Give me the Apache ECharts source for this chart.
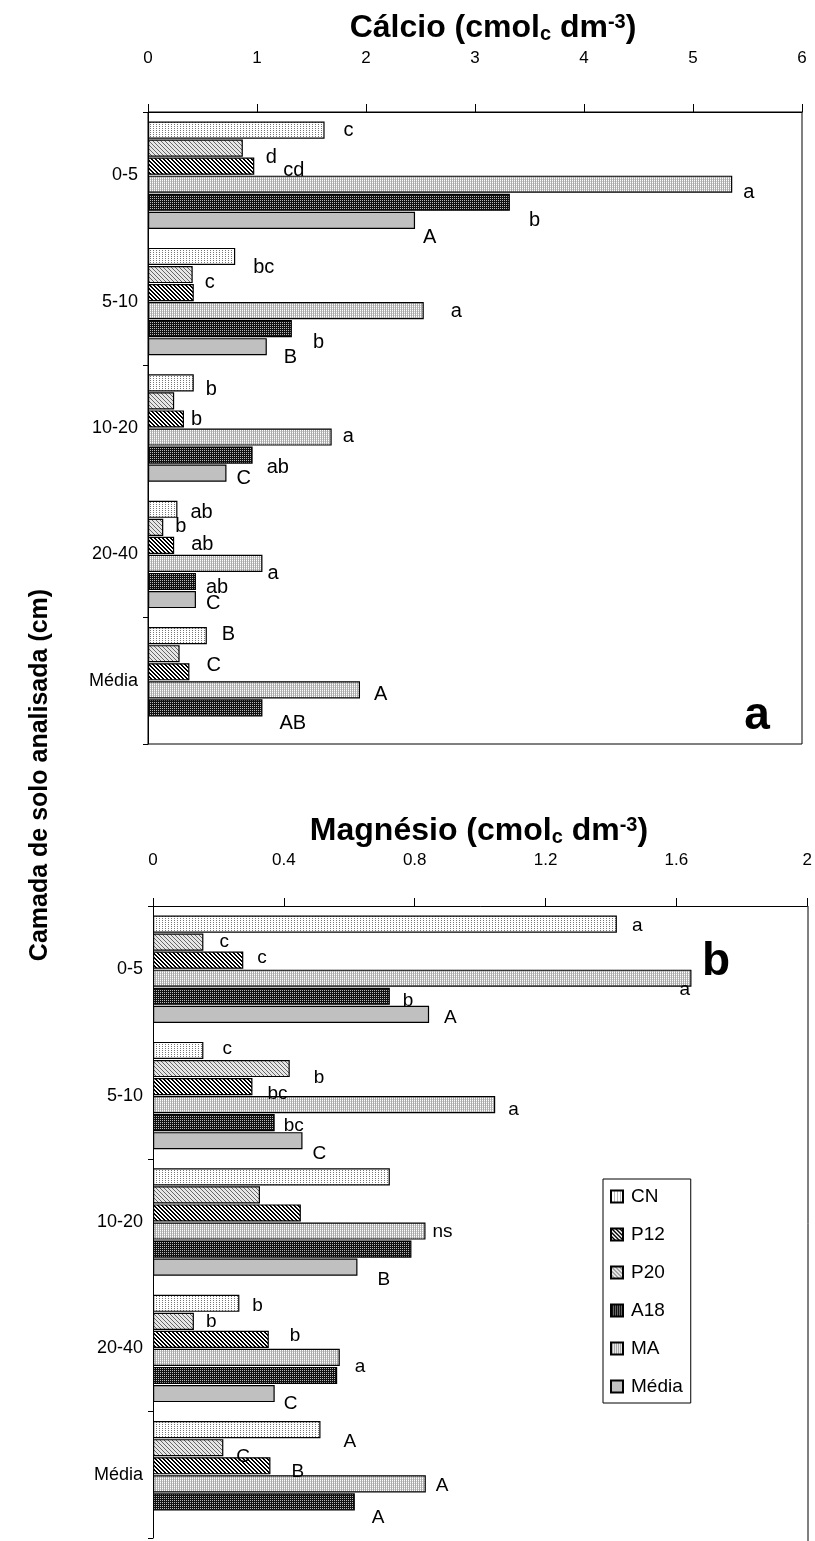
<!DOCTYPE html>
<html><head><meta charset="utf-8">
<script src="https://cdn.jsdelivr.net/npm/echarts@6/dist/echarts.min.js"></script>
<style>html,body{margin:0;padding:0;background:#fff}#c{width:815px;height:1541px}</style>
</head><body><div id="c"></div>
<script>
// ---------- DATA ----------
const categories = ['0-5', '5-10', '10-20', '20-40', 'Média'];
const seriesNames = ['CN', 'P20', 'P12', 'MA', 'A18', 'Média']; // order of bars inside each group (top to bottom)
const legendOrder = ['CN', 'P12', 'P20', 'A18', 'MA', 'Média'];
const caTicks = [0, 1, 2, 3, 4, 5, 6];
const mgTicks = [0, 0.4, 0.8, 1.2, 1.6, 2];

// Cálcio (cmolc dm-3)
const caCN    = [1.62, 0.80, 0.42, 0.27, 0.54];
const caP20   = [0.87, 0.41, 0.24, 0.14, 0.29];
const caP12   = [0.975, 0.42, 0.33, 0.24, 0.38];
const caMA    = [5.36, 2.53, 1.685, 1.05, 1.945];
const caA18   = [3.32, 1.32, 0.96, 0.44, 1.05];
const caMedia = [2.45, 1.09, 0.72, 0.44, null];

const caCNLbl    = ['c', 'bc', 'b', 'ab', 'B'];
const caP20Lbl   = ['d', 'c', '', 'b', ''];
const caP12Lbl   = ['cd', '', 'b', 'ab', 'C'];
const caMALbl    = ['a', 'a', 'a', 'a', 'A'];
const caA18Lbl   = ['b', 'b', 'ab', 'ab', 'AB'];
const caMediaLbl = ['A', 'B', 'C', 'C', ''];

// Magnésio (cmolc dm-3)
const mgCN    = [1.418, 0.154, 0.724, 0.264, 0.512];
const mgP20   = [0.154, 0.418, 0.327, 0.125, 0.215];
const mgP12   = [0.276, 0.304, 0.452, 0.354, 0.359];
const mgMA    = [1.646, 1.046, 0.833, 0.571, 0.834];
const mgA18   = [0.724, 0.372, 0.79, 0.563, 0.617];
const mgMedia = [0.844, 0.457, 0.625, 0.372, null];

const mgCNLbl    = ['a', 'c', '', 'b', 'A'];
const mgP20Lbl   = ['c', 'b', '', 'b', 'C'];
const mgP12Lbl   = ['c', 'bc', '', 'b', 'B'];
const mgMALbl    = ['a', 'a', 'ns', 'a', 'A'];
const mgA18Lbl   = ['b', 'bc', '', '', 'A'];
const mgMediaLbl = ['A', 'C', 'B', 'C', ''];

// ---------- LAYOUT / STYLE ----------
const FONT = "'Liberation Sans', Arial, Helvetica, sans-serif";
// label nudges [dx from bar end, dy from bar centre]
const caNudge = {
  'CN':    [[19,0],[18,11],[12,7],[13,3],[15,-1]],
  'P20':   [[23,9],[12,8],[0,0],[12,-1],[0,0]],
  'P12':   [[29,4],[0,0],[7,1],[17,-1],[17,-6]],
  'MA':    [[11,8],[27,1],[11,-1],[5,10],[14,5]],
  'A18':   [[19,18],[21,14],[14,12],[10,6],[17,16]],
  'Média': [[8,17],[17,11],[10,5],[10,4],[0,0]]
};
const mgNudge = {
  'CN':    [[15,2],[19,-2],[0,0],[13,2],[23,12]],
  'P20':   [[16,0],[24,9],[0,0],[12,0],[13,9]],
  'P12':   [[14,-2],[15,7],[0,0],[21,-4],[21,6]],
  'MA':    [[-12,12],[13,5],[7,1],[15,9],[10,2]],
  'A18':   [[13,4],[9,3],[0,0],[0,0],[17,16]],
  'Média': [[15,3],[10,13],[20,13],[9,10],[0,0]]
};

function makePattern(w, h, bg, pix) {
  const cv = document.createElement('canvas');
  cv.width = w; cv.height = h;
  const ctx = cv.getContext('2d');
  ctx.fillStyle = bg; ctx.fillRect(0, 0, w, h);
  pix.forEach(p => { ctx.fillStyle = p[2]; ctx.fillRect(p[0], p[1], 1, 1); });
  return { image: cv, repeat: 'repeat' };
}
const fills = {
  'CN': makePattern(3, 2, '#ffffff', [[0,0,'#777']]),
  'P20': makePattern(4, 4, '#e6e6e6', [[0,0,'#666'],[1,1,'#666'],[2,2,'#666'],[3,3,'#666']]),
  'P12': makePattern(4, 4, '#ffffff', [[0,0,'#000'],[1,1,'#000'],[2,2,'#000'],[3,3,'#000'],[1,0,'#000'],[2,1,'#000'],[3,2,'#000'],[0,3,'#000']]),
  'MA': makePattern(2, 2, '#aaaaaa', [[0,0,'#ffffff'],[0,1,'#d0d0d0']]),
  'A18': makePattern(2, 2, '#111111', [[0,0,'#bbbbbb']]),
  'Média': '#c0c0c0'
};

const caVals = {'CN': caCN, 'P20': caP20, 'P12': caP12, 'MA': caMA, 'A18': caA18, 'Média': caMedia};
const caLbls = {'CN': caCNLbl, 'P20': caP20Lbl, 'P12': caP12Lbl, 'MA': caMALbl, 'A18': caA18Lbl, 'Média': caMediaLbl};
const mgVals = {'CN': mgCN, 'P20': mgP20, 'P12': mgP12, 'MA': mgMA, 'A18': mgA18, 'Média': mgMedia};
const mgLbls = {'CN': mgCNLbl, 'P20': mgP20Lbl, 'P12': mgP12Lbl, 'MA': mgMALbl, 'A18': mgA18Lbl, 'Média': mgMediaLbl};

function buildSeries(idx, vals, lbls, nudge, fs) {
  return seriesNames.map(name => ({
    type: 'bar',
    name: name,
    xAxisIndex: idx, yAxisIndex: idx,
    barCategoryGap: '15%',
    barGap: '5%',
    itemStyle: { color: fills[name], borderColor: '#000', borderWidth: 1.2 },
    label: {
      show: true, position: 'right', distance: 0,
      color: '#000', fontSize: fs, fontFamily: FONT,
      formatter: p => lbls[name][p.dataIndex] || ''
    },
    data: vals[name].map((v, i) => ({
      value: v == null ? '-' : v,
      label: { offset: nudge[name][i] }
    }))
  }));
}

function xAxisCfg(idx, ticks, margin) {
  return {
    gridIndex: idx, type: 'value', position: 'top',
    min: ticks[0], max: ticks[ticks.length - 1], interval: ticks[1] - ticks[0],
    axisLine: { show: true, lineStyle: { color: '#000', width: 1 } },
    axisTick: { show: true, length: 8, lineStyle: { color: '#000' } },
    splitLine: { show: false },
    axisLabel: { color: '#000', fontSize: 17, fontFamily: FONT, margin: margin,
                 formatter: v => String(+v.toFixed(1)) }
  };
}
function yAxisCfg(idx) {
  return {
    gridIndex: idx, type: 'category', data: categories, inverse: true,
    axisLine: { show: true, lineStyle: { color: '#000', width: 1 } },
    axisTick: { show: true, interval: 1, length: 5, lineStyle: { color: '#000' } },
    axisLabel: { color: '#000', fontSize: 18, fontFamily: FONT, margin: 10 }
  };
}

const titleRich = {
  sub: { fontSize: 20, fontWeight: 'bold', fontFamily: FONT, lineHeight: 20, verticalAlign: 'bottom' },
  sup: { fontSize: 20, fontWeight: 'bold', fontFamily: FONT, lineHeight: 20, verticalAlign: 'top' }
};
const TITLE_FONT = "bold 32px 'Liberation Sans', Arial, sans-serif";

const chart = echarts.init(document.getElementById('c'), null, { renderer: 'canvas' });
chart.setOption({
  animation: false,
  backgroundColor: '#fff',
  textStyle: { fontFamily: FONT },
  grid: [
    { left: 148, top: 112, width: 654, height: 632, show: true, borderColor: '#000', borderWidth: 1, backgroundColor: 'transparent' },
    { left: 153, top: 906, width: 655, height: 632, show: false }
  ],
  xAxis: [xAxisCfg(0, caTicks, 45), xAxisCfg(1, mgTicks, 37)],
  yAxis: [yAxisCfg(0), yAxisCfg(1)],
  legend: {
    data: legendOrder, orient: 'vertical', left: 603, top: 1179,
    padding: [8, 8, 7, 7], itemGap: 19, itemWidth: 12, itemHeight: 12, icon: 'rect',
    borderColor: '#000', borderWidth: 1, backgroundColor: '#fff',
    textStyle: { color: '#000', fontSize: 19, fontFamily: FONT, padding: [0, 0, 0, 3] },
    selectedMode: false
  },
  graphic: [
    { type: 'text', x: 493, y: 28, style: { text: 'Cálcio (cmol{sub|c} dm{sup|-3})', rich: titleRich,
      font: TITLE_FONT, fill: '#000', textAlign: 'center', textVerticalAlign: 'middle' } },
    { type: 'text', x: 479, y: 831, style: { text: 'Magnésio (cmol{sub|c} dm{sup|-3})', rich: titleRich,
      font: TITLE_FONT, fill: '#000', textAlign: 'center', textVerticalAlign: 'middle' } },
    { type: 'text', x: 40, y: 775, rotation: Math.PI / 2, style: { text: 'Camada de solo analisada (cm)',
      font: "bold 25px 'Liberation Sans', Arial, sans-serif", fill: '#000', textAlign: 'center', textVerticalAlign: 'middle' } },
    { type: 'text', x: 757, y: 716, style: { text: 'a', font: "bold 46px 'Liberation Sans', Arial, sans-serif",
      fill: '#000', textAlign: 'center', textVerticalAlign: 'middle' } },
    { type: 'text', x: 716, y: 962, style: { text: 'b', font: "bold 46px 'Liberation Sans', Arial, sans-serif",
      fill: '#000', textAlign: 'center', textVerticalAlign: 'middle' } },
    { type: 'line', shape: { x1: 808, y1: 906, x2: 808, y2: 1541 }, style: { stroke: '#000', lineWidth: 1 } }
  ],
  series: buildSeries(0, caVals, caLbls, caNudge, 20).concat(buildSeries(1, mgVals, mgLbls, mgNudge, 19))
});
</script>
</body></html>
